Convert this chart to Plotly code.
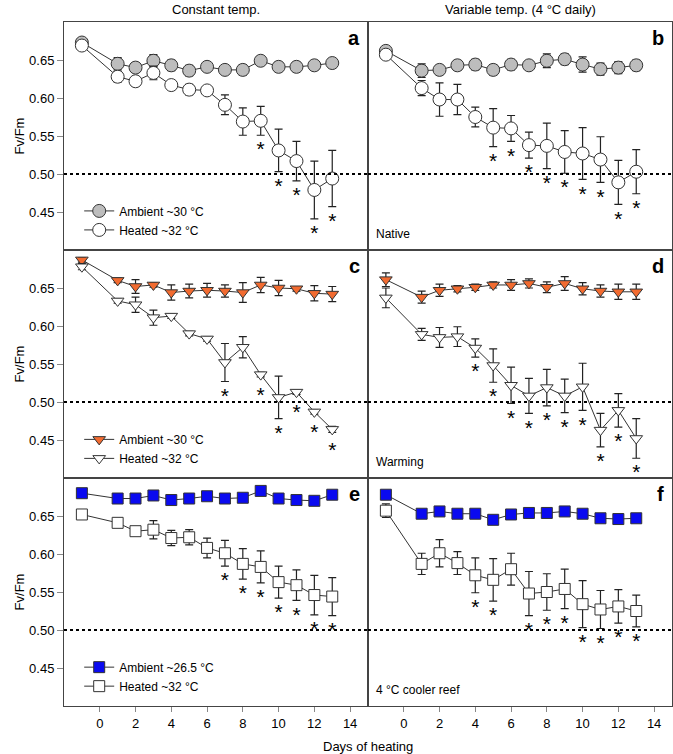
import plotly.graph_objects as go
from plotly.subplots import make_subplots

days = [-1, 1, 2, 3, 4, 5, 6, 7, 8, 9, 10, 11, 12, 13]

# panel a - constant temp, native
a_amb = [0.673, 0.645, 0.640, 0.649, 0.643, 0.636, 0.641, 0.637, 0.637, 0.649, 0.641, 0.641, 0.643, 0.646]
a_amb_err = [0.004, 0.008, 0.004, 0.008, 0.007, 0.007, 0.004, 0.004, 0.007, 0.004, 0.004, 0.004, 0.004, 0.006]
a_heat = [0.669, 0.628, 0.622, 0.633, 0.617, 0.611, 0.610, 0.591, 0.569, 0.570, 0.531, 0.517, 0.479, 0.494]
a_heat_err = [0.004, 0.007, 0.004, 0.009, 0.004, 0.007, 0.004, 0.013, 0.018, 0.019, 0.028, 0.026, 0.038, 0.037]
a_sig = [9, 10, 11, 12, 13]

# panel b - variable temp, native
b_amb = [0.662, 0.636, 0.637, 0.643, 0.644, 0.637, 0.644, 0.643, 0.649, 0.651, 0.644, 0.638, 0.640, 0.643]
b_amb_err = [0.004, 0.009, 0.004, 0.006, 0.007, 0.007, 0.007, 0.005, 0.009, 0.007, 0.010, 0.008, 0.008, 0.007]
b_heat = [0.657, 0.613, 0.598, 0.598, 0.575, 0.561, 0.560, 0.538, 0.537, 0.529, 0.527, 0.519, 0.489, 0.503]
b_heat_err = [0.006, 0.010, 0.022, 0.020, 0.013, 0.025, 0.017, 0.017, 0.030, 0.028, 0.034, 0.030, 0.029, 0.029]
b_sig = [5, 6, 7, 8, 9, 10, 11, 12, 13]

# panel c - constant temp, warming
c_amb = [0.687, 0.660, 0.652, 0.654, 0.644, 0.646, 0.647, 0.646, 0.644, 0.654, 0.650, 0.649, 0.643, 0.642]
c_amb_err = [0.003, 0.003, 0.009, 0.003, 0.010, 0.009, 0.009, 0.008, 0.013, 0.010, 0.010, 0.003, 0.010, 0.010]
c_heat = [0.678, 0.633, 0.628, 0.611, 0.613, 0.590, 0.583, 0.552, 0.572, 0.536, 0.506, 0.513, 0.487, 0.464]
c_heat_err = [0.004, 0.003, 0.010, 0.010, 0.003, 0.003, 0.003, 0.025, 0.014, 0.003, 0.028, 0.003, 0.003, 0.004]
c_sig = [7, 9, 10, 11, 12, 13]

# panel d - variable temp, warming
d_amb = [0.661, 0.638, 0.647, 0.649, 0.651, 0.654, 0.654, 0.656, 0.651, 0.656, 0.649, 0.646, 0.645, 0.645]
d_amb_err = [0.009, 0.008, 0.008, 0.004, 0.004, 0.004, 0.007, 0.006, 0.007, 0.009, 0.008, 0.008, 0.010, 0.010]
d_heat = [0.637, 0.589, 0.585, 0.586, 0.571, 0.548, 0.522, 0.508, 0.519, 0.508, 0.520, 0.463, 0.489, 0.452]
d_heat_err = [0.013, 0.008, 0.013, 0.013, 0.012, 0.022, 0.024, 0.023, 0.024, 0.022, 0.031, 0.022, 0.022, 0.026]
d_sig = [4, 5, 6, 7, 8, 9, 10, 11, 12, 13]

# panel e - constant temp, 4 C cooler reef
e_amb = [0.680, 0.673, 0.673, 0.677, 0.671, 0.673, 0.676, 0.673, 0.674, 0.683, 0.673, 0.671, 0.670, 0.678]
e_amb_err = [0.002] * 14
e_heat = [0.652, 0.641, 0.630, 0.632, 0.621, 0.622, 0.608, 0.601, 0.587, 0.583, 0.563, 0.559, 0.546, 0.544]
e_heat_err = [0.002, 0.004, 0.004, 0.012, 0.010, 0.010, 0.013, 0.017, 0.020, 0.021, 0.021, 0.020, 0.026, 0.025]
e_sig = [7, 8, 9, 10, 11, 12, 13]

# panel f - variable temp, 4 C cooler reef
f_amb = [0.678, 0.653, 0.656, 0.653, 0.653, 0.645, 0.652, 0.654, 0.654, 0.656, 0.653, 0.647, 0.646, 0.647]
f_amb_err = [0.002, 0.002, 0.002, 0.002, 0.002, 0.002, 0.002, 0.002, 0.002, 0.002, 0.002, 0.002, 0.006, 0.002]
f_heat = [0.657, 0.587, 0.601, 0.588, 0.572, 0.566, 0.580, 0.548, 0.550, 0.554, 0.534, 0.527, 0.531, 0.525]
f_heat_err = [0.009, 0.014, 0.018, 0.015, 0.023, 0.028, 0.021, 0.029, 0.024, 0.026, 0.031, 0.025, 0.022, 0.021]
f_sig = [4, 5, 7, 8, 9, 10, 11, 12, 13]

FONT = "Liberation Sans, Arial, sans-serif"
EDGE = "#333333"

fig = make_subplots(rows=3, cols=2, horizontal_spacing=0, vertical_spacing=0)


def panel(row, col, amb, amb_err, heat, heat_err, sig, symbol, color, size, amb_name, legend):
    show = legend is not None
    fig.add_trace(go.Scatter(
        x=days, y=amb, mode="lines+markers", name=amb_name,
        line=dict(color=EDGE, width=1),
        marker=dict(symbol=symbol, size=size, color=color, line=dict(color=EDGE, width=1)),
        error_y=dict(type="data", array=amb_err, color="#222222", thickness=1.2, width=4),
        showlegend=show, legend=legend if show else "legend"), row=row, col=col)
    fig.add_trace(go.Scatter(
        x=days, y=heat, mode="lines+markers", name="Heated ~32 °C",
        line=dict(color=EDGE, width=1),
        marker=dict(symbol=symbol, size=size, color="white", line=dict(color=EDGE, width=1)),
        error_y=dict(type="data", array=heat_err, color="#222222", thickness=1.2, width=4),
        showlegend=show, legend=legend if show else "legend"), row=row, col=col)
    # significance stars under the heated series
    sx, sy = [], []
    for d in sig:
        i = days.index(d)
        sx.append(d)
        sy.append(heat[i] - max(heat_err[i], 0.008) - 0.021)
    fig.add_trace(go.Scatter(
        x=sx, y=sy, mode="text", text=["*"] * len(sx), textposition="middle center",
        textfont=dict(size=21, color="black", family=FONT),
        showlegend=False, hoverinfo="skip"), row=row, col=col)
    fig.add_hline(y=0.5, line=dict(color="black", width=2, dash="dot"), row=row, col=col)


panel(1, 1, a_amb, a_amb_err, a_heat, a_heat_err, a_sig, "circle", "#BDBDBD", 13, "Ambient ~30 °C", "legend")
panel(1, 2, b_amb, b_amb_err, b_heat, b_heat_err, b_sig, "circle", "#BDBDBD", 13, "Ambient ~30 °C", None)
panel(2, 1, c_amb, c_amb_err, c_heat, c_heat_err, c_sig, "triangle-down", "#F26B30", 11, "Ambient ~30 °C", "legend2")
panel(2, 2, d_amb, d_amb_err, d_heat, d_heat_err, d_sig, "triangle-down", "#F26B30", 11, "Ambient ~30 °C", None)
panel(3, 1, e_amb, e_amb_err, e_heat, e_heat_err, e_sig, "square", "#0A0AF0", 11, "Ambient ~26.5 °C", "legend3")
panel(3, 2, f_amb, f_amb_err, f_heat, f_heat_err, f_sig, "square", "#0A0AF0", 11, "Ambient ~26.5 °C", None)

for r in [1, 2, 3]:
    for c in [1, 2]:
        fig.update_xaxes(range=[-2, 15], tickvals=[0, 2, 4, 6, 8, 10, 12, 14],
                         showticklabels=(r == 3), ticks="outside" if r == 3 else "",
                         ticklen=5, tickcolor="#888888",
                         showline=True, mirror=True, linecolor="#444444", linewidth=1,
                         showgrid=False, zeroline=False, row=r, col=c)
        fig.update_yaxes(range=[0.40, 0.70], tickvals=[0.45, 0.50, 0.55, 0.60, 0.65],
                         tickformat=".2f", showticklabels=(c == 1),
                         ticks="outside" if c == 1 else "", ticklen=6, tickcolor="#888888",
                         showline=True, mirror=True, linecolor="#444444", linewidth=1,
                         showgrid=False, zeroline=False, row=r, col=c)

letters = ["a", "b", "c", "d", "e", "f"]
for k, lab in enumerate(letters):
    n = "" if k == 0 else str(k + 1)
    fig.add_annotation(text="<b>" + lab + "</b>", xref="x" + n + " domain", yref="y" + n + " domain",
                       x=1, y=1, xanchor="right", yanchor="top", xshift=-6, yshift=-3,
                       showarrow=False, font=dict(size=20, color="black", family=FONT))

for n, lab in [("2", "Native"), ("4", "Warming"), ("6", "4 °C cooler reef")]:
    fig.add_annotation(text=lab, xref="x" + n + " domain", yref="y" + n + " domain",
                       x=0, y=0, xanchor="left", yanchor="bottom", xshift=6, yshift=7,
                       showarrow=False, font=dict(size=12, color="black", family=FONT))

fig.add_annotation(text="Constant temp.", xref="x domain", yref="paper", x=0.5, y=1,
                   yanchor="bottom", yshift=3, showarrow=False,
                   font=dict(size=13, color="black", family=FONT))
fig.add_annotation(text="Variable temp. (4 °C daily)", xref="x2 domain", yref="paper", x=0.5, y=1,
                   yanchor="bottom", yshift=3, showarrow=False,
                   font=dict(size=13, color="black", family=FONT))
fig.add_annotation(text="Days of heating", xref="paper", yref="paper", x=0.5, y=0,
                   yanchor="top", yshift=-31, showarrow=False,
                   font=dict(size=13, color="black", family=FONT))
for n in ["", "3", "5"]:
    fig.add_annotation(text="Fv/Fm", xref="paper", yref="y" + n + " domain", x=-0.089, y=0.5,
                       textangle=-90, showarrow=False,
                       font=dict(size=13, color="black", family=FONT))

leg = dict(bgcolor="rgba(0,0,0,0)", font=dict(size=12, color="black", family=FONT),
           xanchor="left", yanchor="top", x=0.025, tracegroupgap=0)
fig.update_layout(
    width=673, height=754,
    margin=dict(l=64, r=1, t=22, b=48),
    paper_bgcolor="white", plot_bgcolor="white",
    font=dict(family=FONT, size=13, color="black"),
    legend=dict(leg, y=0.745),
    legend2=dict(leg, y=0.411),
    legend3=dict(leg, y=0.078),
)

fig.write_html("out.html", config={"displayModeBar": False},
               post_script="document.body.style.margin='0';")
